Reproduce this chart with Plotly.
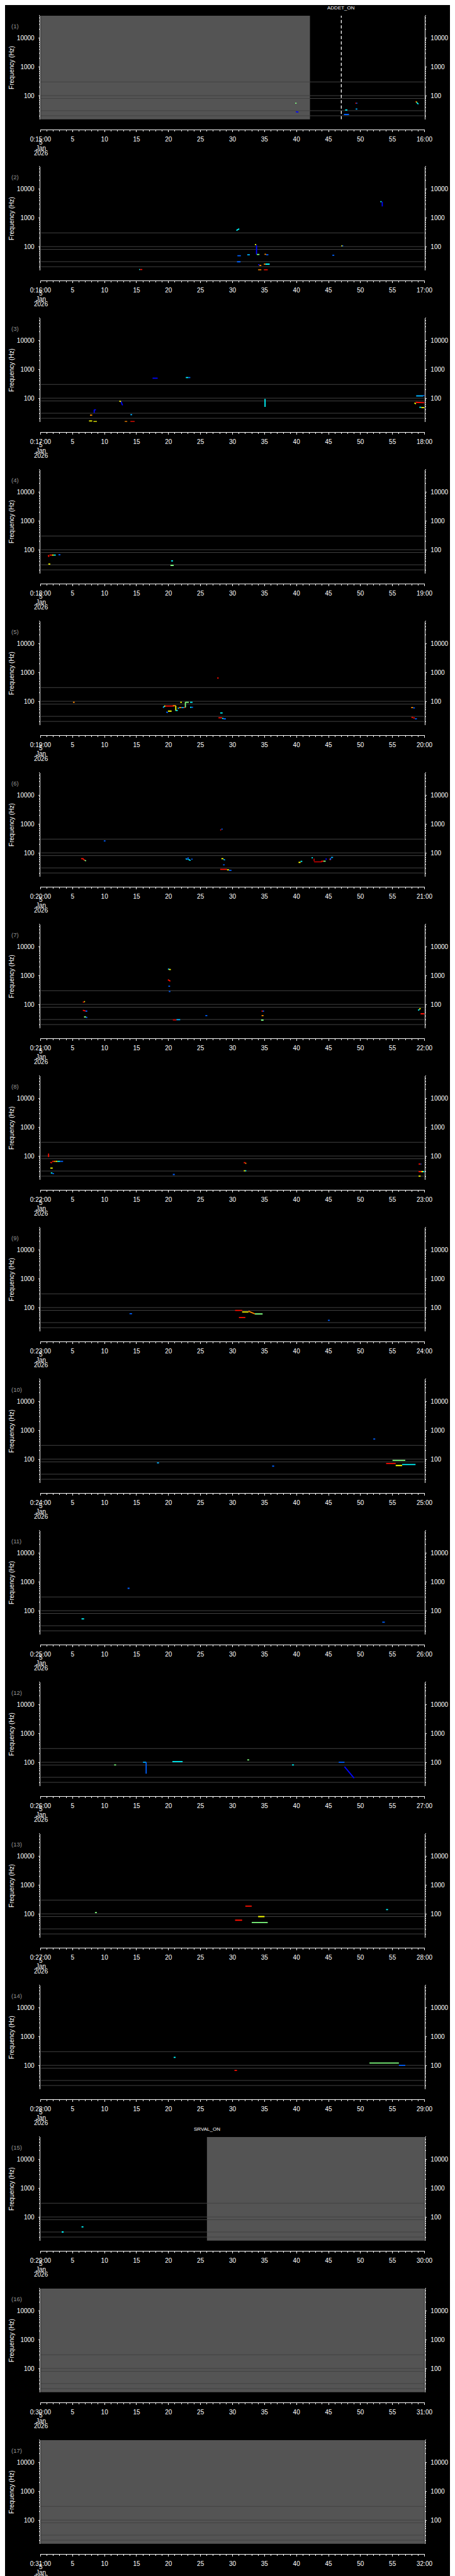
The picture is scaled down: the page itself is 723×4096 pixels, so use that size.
import math
import plotly.graph_objects as go
from plotly.colors import sample_colorscale

# ---------------- reference geometry (pixels of the 1024x5802 original) ----------
REF_W, REF_H = 1024, 5802
W, H = 723, 4096
S = W / REF_W

PLOT_LEFT, PLOT_RIGHT = 80, 944
PLOT_H = 233.5
FIRST_TOP = 24
SECOND_TOP = 364
PITCH = 341.375
XAXIS_BELOW_TOP = 257

# ---------------- data ----------------
PANELS = list(range(1, 18))
START_MINUTES = [15, 16, 17, 18, 19, 20, 21, 22, 23, 24, 25, 26, 27, 28, 29, 30, 31]
DATE_LINES = ["5", "Jan", "2026"]
X_TICK_SECONDS = [0, 5, 10, 15, 20, 25, 30, 35, 40, 45, 50, 55, 60]

FREQ_RANGE_HZ = [15, 60000]
FREQ_MAJOR = [100, 1000, 10000]
FREQ_MAJOR_TEXT = ["100", "1000", "10000"]
REF_LINES_HZ = [20, 30, 80, 100, 300]

# shaded (no data) intervals
NODATA_PANEL = [1, 15, 16, 17]
NODATA_T0 = [0.0, 26.0, 0.0, 0.0]
NODATA_T1 = [42.1, 60.0, 60.0, 60.0]

# event markers
EVENT_PANEL = [1, 15]
EVENT_T = [47.0, 26.0]
EVENT_LABEL = ["ADDET_ON", "SRVAL_ON"]
EVENT_DASHED = [True, False]

# colour values (jet scale 0..1)
DB, BL, LB, CY, GR, YE, OR, RD, DR = 0.13, 0.22, 0.30, 0.37, 0.50, 0.62, 0.74, 0.86, 0.95

# segments per panel: (t_start s, t_end s, f_start Hz, f_end Hz, colour value)
P01 = [(39.8, 40.0, 54.5, 54.5, GR), (39.9, 40.3, 27.7, 26.7, DB),
       (47.6, 47.95, 31.9, 31.9, CY), (47.4, 48.2, 22.2, 22.2, BL),
       (49.2, 49.35, 54.5, 54.5, RD), (49.35, 49.5, 54.5, 54.5, BL),
       (49.25, 49.5, 34.3, 34.3, LB),
       (58.6, 58.7, 62.0, 62.0, RD), (58.7, 58.8, 62.0, 58.5, YE),
       (58.8, 59.05, 57.2, 50.8, CY)]
P02 = [(15.4, 15.55, 16.0, 16.0, CY), (15.55, 15.9, 16.0, 16.0, RD),
       (30.6, 31.05, 361, 417, CY), (30.76, 31.3, 48.4, 48.4, BL),
       (30.7, 31.25, 29.7, 29.7, BL), (32.3, 32.7, 52.0, 52.0, LB),
       (33.5, 33.7, 118, 118, YE), (33.75, 33.75, 112, 53.9, DB),
       (33.8, 34.2, 53.3, 53.3, GR), (34.0, 34.2, 23.4, 23.4, DB),
       (34.2, 34.5, 22.0, 22.0, OR), (34.0, 34.5, 15.6, 15.6, OR),
       (34.9, 35.5, 15.6, 15.6, RD), (34.9, 35.15, 24.6, 24.6, OR),
       (35.15, 35.8, 24.6, 24.6, CY), (35.0, 35.25, 53.9, 53.9, OR),
       (35.25, 35.6, 52.0, 52.0, BL), (45.6, 45.9, 50.1, 50.1, BL),
       (47.0, 47.15, 106, 106, YE), (47.15, 47.3, 106, 106, BL),
       (53.1, 53.3, 3640, 3640, CY), (53.4, 53.4, 3640, 2490, DB)]
P03 = [(17.5, 18.3, 494, 494, DB), (22.7, 23.1, 519, 519, CY), (23.1, 23.4, 519, 519, BL),
       (35.08, 35.08, 94, 50, CY), (58.7, 59.8, 120, 120, LB), (59.8, 60.0, 124, 124, BL),
       (58.43, 58.66, 69.1, 62.8, YE), (58.62, 60.0, 71.6, 69.1, RD),
       (59.2, 59.5, 48.3, 48.3, CY), (59.5, 60.0, 47.2, 47.2, YE),
       (8.38, 8.38, 39.5, 30.7, DB), (8.38, 8.65, 39.5, 39.5, DB),
       (12.31, 12.58, 79.7, 76.0, YE), (12.58, 12.81, 76.0, 56.4, DB),
       (7.72, 8.07, 25.7, 25.7, OR), (14.04, 14.31, 26.6, 26.6, LB),
       (7.57, 8.07, 16.1, 16.1, YE), (8.26, 8.8, 15.4, 15.4, YE),
       (13.15, 13.54, 15.4, 15.4, OR), (14.04, 14.7, 15.4, 15.4, RD)]
P04 = [(1.21, 1.3, 65.1, 56.4, RD), (1.4, 1.79, 65.1, 65.1, RD),
       (1.79, 2.06, 65.1, 65.1, YE), (2.06, 2.37, 65.1, 65.1, CY),
       (2.8, 3.1, 66.7, 66.7, BL), (1.21, 1.52, 31.8, 31.8, YE),
       (20.4, 20.7, 40.9, 40.9, CY), (20.3, 20.8, 28.6, 28.6, GR)]
P05 = [(5.06, 5.33, 93, 93, OR), (27.6, 27.83, 643, 643, RD),
       (19.13, 19.43, 60.6, 69.1, LB), (19.32, 19.51, 68.3, 68.3, YE),
       (19.51, 20.86, 68.3, 68.3, RD), (20.67, 21.13, 69.9, 69.9, OR),
       (21.13, 21.13, 69.9, 46.6, YE), (21.13, 21.44, 48.3, 48.3, CY),
       (19.63, 19.9, 42.4, 40.4, BL), (19.9, 20.48, 45.5, 45.5, YE),
       (21.44, 21.63, 59.2, 55.7, LB), (21.63, 22.02, 60.6, 60.6, OR),
       (22.02, 22.4, 60.6, 60.6, LB), (22.4, 22.59, 60.6, 60.6, RD),
       (22.63, 22.63, 93, 60.6, GR), (22.63, 23.17, 93, 93, GR),
       (21.82, 22.09, 93, 93, YE), (23.36, 23.75, 93, 93, CY),
       (23.36, 23.6, 62.1, 62.1, CY), (23.6, 23.83, 62.1, 62.1, BL),
       (28.07, 28.45, 39.5, 39.5, CY), (27.8, 28.37, 26.6, 26.6, RD),
       (28.37, 28.6, 25.4, 25.4, CY), (28.6, 28.95, 24.6, 24.6, BL),
       (57.92, 58.23, 60.6, 60.6, OR), (58.23, 58.5, 59.2, 59.2, BL),
       (57.96, 58.23, 27.6, 27.6, RD), (58.23, 58.5, 26.3, 26.3, RD),
       (58.5, 58.81, 24.8, 24.8, BL)]
P06 = [(9.88, 10.15, 260, 260, BL), (28.07, 28.22, 628, 628, RD), (28.26, 28.45, 667, 667, BL),
       (6.33, 6.72, 62.8, 62.8, RD), (6.64, 6.9, 61.3, 55.0, RD), (6.9, 7.1, 55.0, 52.5, GR),
       (22.67, 22.98, 62.8, 59.2, LB), (23.05, 23.05, 69.9, 59.2, BL),
       (23.1, 23.44, 59.2, 54.4, CY), (23.56, 23.75, 60.6, 60.6, BL),
       (28.26, 28.57, 62.8, 62.8, YE), (28.57, 28.84, 59.2, 56.4, LB),
       (28.53, 28.76, 38.5, 38.5, BL), (28.07, 29.14, 26.6, 26.6, RD),
       (29.14, 29.45, 25.7, 25.7, YE), (29.45, 29.84, 24.8, 24.8, BL),
       (40.32, 40.63, 46.6, 46.6, YE), (40.63, 40.9, 50.7, 50.7, CY),
       (42.36, 42.55, 67.5, 67.5, CY), (42.75, 42.75, 62.8, 50.7, DR),
       (42.75, 43.98, 48.9, 48.9, DR), (43.86, 44.2, 51.3, 51.3, RD),
       (44.2, 44.56, 51.3, 51.3, GR), (44.63, 44.63, 65.1, 57.1, DB),
       (45.13, 45.4, 59.2, 59.2, RD), (45.32, 45.32, 66.7, 57.1, BL),
       (45.4, 45.71, 69.1, 69.1, LB)]
P07 = [(19.9, 20.13, 1690, 1690, LB), (20.05, 20.36, 1631, 1631, YE),
       (19.9, 20.28, 725, 643, RD), (19.97, 20.24, 429, 429, BL),
       (20.05, 20.28, 282, 282, BL), (6.6, 6.8, 120, 120, RD), (6.8, 6.95, 125, 125, YE),
       (6.6, 7.03, 62.8, 59.2, RD), (7.03, 7.3, 58.5, 58.5, BL),
       (6.8, 7.1, 36.7, 36.7, GR), (7.1, 7.3, 35.4, 35.4, BL),
       (20.67, 21.24, 28.9, 28.9, DR), (21.24, 21.82, 29.6, 29.6, LB),
       (25.75, 26.06, 40.9, 40.9, BL), (34.54, 34.73, 58.5, 58.5, RD),
       (34.73, 34.92, 58.5, 58.5, BL), (34.54, 34.85, 40.9, 40.9, OR),
       (34.46, 34.85, 28.6, 28.6, GR), (59.0, 59.2, 62.1, 66.7, CY),
       (59.2, 59.39, 68.3, 73.3, YE), (59.39, 60.0, 47.2, 47.2, RD)]
P08 = [(1.25, 1.25, 121, 92, RD), (1.52, 1.79, 60.6, 57.8, RD),
       (1.79, 2.06, 65.1, 65.1, RD), (2.06, 2.37, 65.1, 65.1, OR),
       (2.37, 2.63, 65.1, 65.1, YE), (2.63, 3.06, 65.1, 65.1, CY),
       (3.06, 3.52, 65.1, 65.1, BL), (1.52, 1.9, 38.0, 38.0, YE),
       (1.6, 1.85, 25.7, 25.7, CY), (1.85, 2.1, 24.5, 24.5, BL),
       (20.67, 20.97, 22.8, 22.8, BL), (31.76, 32.0, 58.5, 58.5, RD),
       (32.0, 32.15, 55.7, 55.7, OR), (31.76, 32.0, 30.7, 30.7, YE),
       (32.0, 32.15, 30.7, 30.7, CY), (59.08, 59.39, 52.5, 52.5, RD),
       (59.39, 59.51, 52.5, 52.5, BL), (59.08, 59.51, 28.6, 28.6, RD),
       (59.51, 59.78, 28.6, 28.6, YE), (59.78, 60.0, 28.6, 28.6, CY),
       (59.08, 59.39, 20.0, 20.0, YE)]
P09 = [(13.9, 14.3, 61, 61, BL), (30.4, 31.5, 80, 80, RD), (31.5, 32.5, 70, 70, YE),
       (32.5, 33.5, 75, 60, OR), (33.5, 34.7, 60, 60, GR), (31.0, 32.0, 45, 45, RD),
       (44.9, 45.2, 36, 36, BL)]
P10 = [(18.2, 18.5, 74, 74, LB), (36.2, 36.5, 57, 57, BL), (52.0, 52.3, 500, 500, BL),
       (54.0, 55.5, 70, 70, RD), (55.5, 56.5, 60, 60, YE), (56.5, 58.6, 65, 65, CY),
       (55.0, 57.0, 90, 90, GR)]
P11 = [(6.4, 6.8, 52, 52, CY), (13.6, 13.9, 600, 600, BL), (53.4, 53.8, 40, 40, BL)]
P12 = [(11.5, 11.8, 81, 81, GR), (16.0, 16.5, 100, 100, LB), (16.5, 16.5, 100, 40, BL),
       (20.6, 22.2, 105, 105, CY), (32.3, 32.6, 120, 120, GR), (39.3, 39.6, 81, 81, CY),
       (46.6, 47.5, 100, 100, BL), (47.5, 49.0, 70, 28, DB)]
P13 = [(8.5, 8.8, 110, 110, GR), (30.4, 31.5, 60, 60, RD), (32.0, 33.0, 185, 185, RD),
       (33.0, 35.5, 50, 50, GR), (34.0, 35.0, 80, 80, YE), (54.0, 54.3, 140, 140, CY)]
P14 = [(20.8, 21.1, 190, 190, CY), (30.3, 30.7, 67, 67, RD), (51.4, 56.0, 120, 120, GR),
       (56.0, 57.0, 100, 100, BL)]
P15 = [(3.3, 3.6, 30, 30, CY), (6.4, 6.7, 45, 45, CY)]
P16 = []
P17 = []
SEGMENTS = {1: P01, 2: P02, 3: P03, 4: P04, 5: P05, 6: P06, 7: P07, 8: P08, 9: P09,
            10: P10, 11: P11, 12: P12, 13: P13, 14: P14, 15: P15, 16: P16, 17: P17}

JET = [[0.0, "rgb(0,0,140)"], [0.125, "rgb(0,0,255)"], [0.375, "rgb(0,255,255)"],
       [0.625, "rgb(255,255,0)"], [0.875, "rgb(255,0,0)"], [1.0, "rgb(140,0,0)"]]

FONT = "Liberation Sans, Arial, sans-serif"
GRAY_FILL = "rgb(84,84,84)"
LINE_GRAY = "rgb(66,66,66)"


def panel_top(k):
    return FIRST_TOP if k == 1 else SECOND_TOP + (k - 2) * PITCH


def px(x):
    return x / REF_W


def py(y):
    return 1 - y / REF_H


def suf(n):
    return "" if n == 1 else str(n)


minor_freq = [m * 10 ** e for e in range(1, 5) for m in range(2, 10) if 15 <= m * 10 ** e <= 60000]
minor_sec = [s for s in range(0, 61)]
log_range = [math.log10(FREQ_RANGE_HZ[0]), math.log10(FREQ_RANGE_HZ[1])]

fig = go.Figure()
layout = dict(
    width=W, height=H, autosize=False,
    margin=dict(l=0, r=0, t=0, b=0, pad=0),
    paper_bgcolor="black", plot_bgcolor="black",
    showlegend=False, font=dict(family=FONT, color="white", size=10),
)
annotations = []
shapes = []
n = len(PANELS)

for k in PANELS:
    top = panel_top(k)
    xs, ym, yo = suf(k), suf(k), str(n + k)
    ydom = [py(top + PLOT_H), py(top)]
    m = START_MINUTES[k - 1]
    ticktext = []
    for s in X_TICK_SECONDS:
        if s == 0:
            ticktext.append(f"0:{m:02d}:00")
        elif s == 60:
            ticktext.append(f"{m + 1}:00")
        else:
            ticktext.append(str(s))

    layout["xaxis" + xs] = dict(
        domain=[px(PLOT_LEFT), px(PLOT_RIGHT)], range=[0, 60], anchor="free",
        position=py(top + XAXIS_BELOW_TOP), showline=True, linecolor="white", linewidth=1,
        ticks="outside", ticklen=4.2 * S, tickwidth=1, tickcolor="white",
        tickmode="array", tickvals=X_TICK_SECONDS, ticktext=ticktext,
        minor=dict(tickmode="array", tickvals=minor_sec, ticklen=2.4 * S, tickwidth=1,
                   tickcolor="white", ticks="outside"),
        showgrid=False, zeroline=False, automargin=False, fixedrange=True,
        tickfont=dict(family=FONT, color="white", size=10), ticklabelstandoff=3,
    )
    yax_common = dict(
        type="log", range=log_range, showline=True, linecolor="white", linewidth=1,
        ticks="outside", ticklen=4 * S, tickwidth=1, tickcolor="white",
        tickmode="array", tickvals=FREQ_MAJOR, ticktext=FREQ_MAJOR_TEXT,
        minor=dict(tickmode="array", tickvals=minor_freq, ticklen=2.4 * S, tickwidth=1,
                   tickcolor="white", ticks="outside"),
        showgrid=False, zeroline=False, automargin=False, fixedrange=True,
        tickfont=dict(family=FONT, color="white", size=10), ticklabelstandoff=4,
    )
    layout["yaxis" + ym] = dict(domain=ydom, anchor="x" + xs, side="left", **yax_common)
    layout["yaxis" + yo] = dict(anchor="x" + xs, overlaying="y" + ym, side="right", **yax_common)

    # shaded no-data intervals
    for p, t0, t1 in zip(NODATA_PANEL, NODATA_T0, NODATA_T1):
        if p == k:
            shapes.append(dict(type="rect", xref="x" + xs, yref="y" + ym + " domain",
                               x0=t0, x1=t1, y0=0, y1=1, fillcolor=GRAY_FILL,
                               line=dict(width=0), layer="below"))

    # reference frequency lines
    lx, ly = [], []
    for f in REF_LINES_HZ:
        lx += [0, 60, None]
        ly += [f, f, None]
    fig.add_trace(go.Scatter(x=lx, y=ly, mode="lines", xaxis="x" + xs, yaxis="y" + ym,
                             line=dict(color=LINE_GRAY, width=1), hoverinfo="skip"))

    # data segments (on overlay axis so they sit above the reference lines)
    segs = SEGMENTS[k]
    if not segs:
        fig.add_trace(go.Scatter(x=[None], y=[None], mode="lines", xaxis="x" + xs,
                                 yaxis="y" + yo, hoverinfo="skip"))
    for (t0, t1, f0, f1, c) in segs:
        col = sample_colorscale(JET, [c])[0]
        fig.add_trace(go.Scatter(x=[t0, t1], y=[f0, f1], mode="lines", xaxis="x" + xs,
                                 yaxis="y" + yo, line=dict(color=col, width=1.8),
                                 hoverinfo="skip"))

    # events
    for p, t, lab, dashed in zip(EVENT_PANEL, EVENT_T, EVENT_LABEL, EVENT_DASHED):
        if p == k:
            if dashed:
                fig.add_trace(go.Scatter(x=[t, t], y=FREQ_RANGE_HZ, mode="lines",
                                         xaxis="x" + xs, yaxis="y" + yo,
                                         line=dict(color="white", width=1.3, dash="5px,3.5px"),
                                         hoverinfo="skip"))
            annotations.append(dict(x=t, xref="x" + xs, y=py(top - 18), yref="paper",
                                    text=lab, showarrow=False, xanchor="center",
                                    yanchor="middle", font=dict(family=FONT, size=8, color="white")))

    # panel number
    annotations.append(dict(x=px(11), y=py(top + 24), xref="paper", yref="paper",
                            text=f"({k})", showarrow=False, xanchor="left", yanchor="middle",
                            font=dict(family=FONT, size=9.5, color="rgb(150,150,150)")))
    # y title
    annotations.append(dict(x=px(15), y=py(top + PLOT_H / 2), xref="paper", yref="paper",
                            text="Frequency (Hz)", textangle=-90, showarrow=False,
                            xanchor="center", yanchor="middle",
                            font=dict(family=FONT, size=10, color="white")))
    # date lines under the first tick
    axis_y = top + XAXIS_BELOW_TOP
    for j, line in enumerate(DATE_LINES):
        annotations.append(dict(x=px(81), y=py(axis_y + 29 + 12 * j), xref="paper",
                                yref="paper", text=line, showarrow=False, xanchor="center",
                                yanchor="middle", font=dict(family=FONT, size=10, color="white")))

layout["annotations"] = annotations
layout["shapes"] = shapes
fig.update_layout(**layout)
fig.write_html("out.html", config={"displayModeBar": False})
